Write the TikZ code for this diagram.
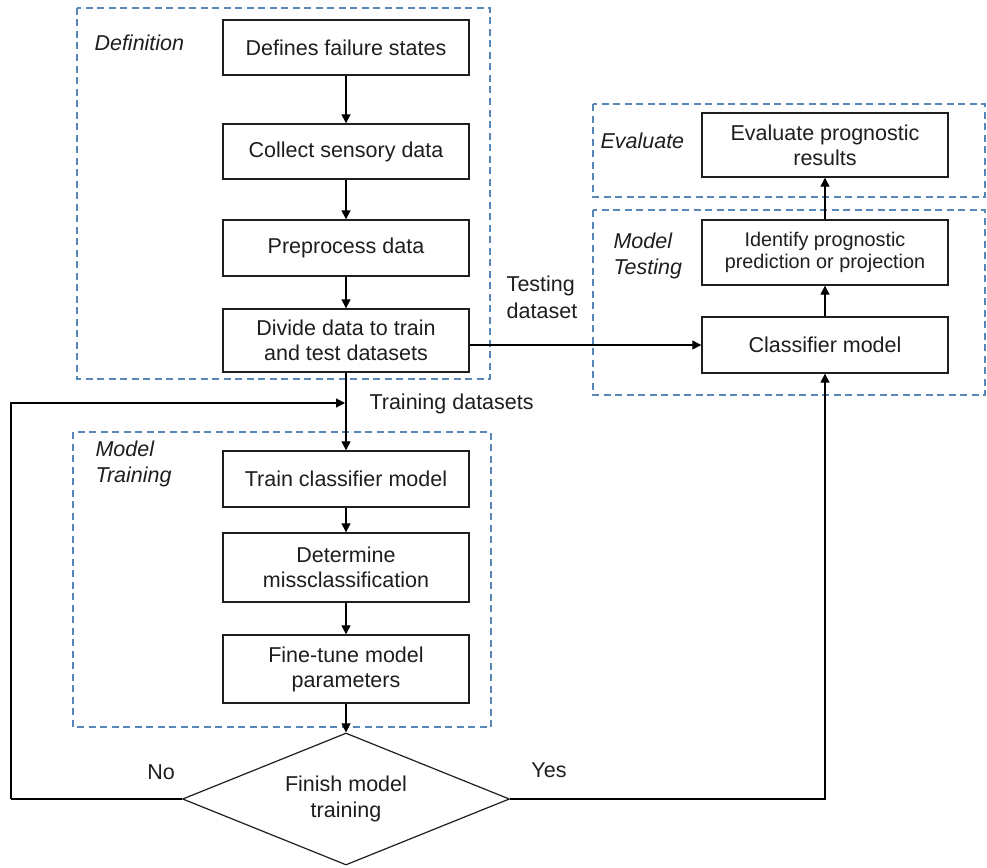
\documentclass[tikz,border=0pt]{standalone}
\usepackage{fontspec}
\setmainfont{Liberation Sans}
\usetikzlibrary{arrows.meta,shapes.geometric}
\definecolor{groupblue}{RGB}{88,134,182}
\definecolor{inkgray}{RGB}{30,30,30}
\begin{document}
\begin{tikzpicture}[x=1pt,y=-1pt,
  every node/.style={text=inkgray},
  stepbox/.style={draw=inkgray, line width=1.4pt, fill=white, minimum width=246pt,
    inner sep=2pt, align=center, font=\fontsize{21.5}{25}\selectfont},
  decision/.style={draw=inkgray, line width=1.2pt, diamond, aspect=2.48, fill=white, inner sep=0pt,
    minimum width=327pt, minimum height=132pt, align=center,
    font=\fontsize{21.5}{25.5}\selectfont},
  group/.style={draw=groupblue, line width=1.3pt, dash pattern=on 7pt off 4.5pt},
  grouplabel/.style={font=\itshape\fontsize{21.5}{25.5}\selectfont, align=left},
  plain/.style={font=\fontsize{21.5}{27}\selectfont, align=left},
  flow/.style={draw=black, line width=1.3pt, -{Triangle[length=9pt,width=9pt]}},
  link/.style={draw=black, line width=1.3pt}]
\useasboundingbox (0,0) rectangle (987,867);

% dashed stage frames
\draw[group] (77,8) rectangle (490,379);
\draw[group] (73,432) rectangle (491,727);
\draw[group] (593,104) rectangle (985,197);
\draw[group] (593,210) rectangle (985,395);

% stage names
\node[grouplabel, anchor=west] (lblDef) at (91,43) {Definition};
\node[grouplabel, anchor=west] (lblTrain) at (92,464) {Model\\Training};
\node[grouplabel, anchor=west] (lblEval) at (597,141) {Evaluate};
\node[grouplabel, anchor=west] (lblTest) at (610,256) {Model\\Testing};

% left column steps
\node[stepbox, minimum height=55pt] (fail) at (346,47.5) {Defines failure states};
\node[stepbox, minimum height=55pt] (collect) at (346,151.5) {Collect sensory data};
\node[stepbox, minimum height=56pt] (prep) at (346,248) {Preprocess data};
\node[stepbox, minimum height=63pt] (divide) at (346,340.5) {Divide data to train\\and test datasets};
\node[stepbox, minimum height=56pt] (train) at (346,479) {Train classifier model};
\node[stepbox, minimum height=69pt] (miss) at (346,567.5) {Determine\\missclassification};
\node[stepbox, minimum height=68pt] (tune) at (346,669) {Fine-tune model\\parameters};
\node[decision] (finish) at (346,799) {Finish model\\training};

% right column steps
\node[stepbox, minimum height=64pt] (evalres) at (825,145) {Evaluate prognostic\\results};
\node[stepbox, minimum height=65pt, font=\fontsize{19.8}{22.5}\selectfont] (ident) at (825,252.5) {Identify prognostic\\prediction or projection};
\node[stepbox, minimum height=56pt] (clf) at (825,345) {Classifier model};

% flow arrows
\draw[flow] (fail) -- (collect);
\draw[flow] (collect) -- (prep);
\draw[flow] (prep) -- (divide);
\draw[flow] (divide) -- (train);
\draw[flow] (train) -- (miss);
\draw[flow] (miss) -- (tune);
\draw[flow] (tune) -- (finish);
\draw[flow] (divide.east |- clf.west) -- (clf.west);
\draw[flow] (clf) -- (ident);
\draw[flow] (ident) -- (evalres);

% loop back when training is not finished
\coordinate (loopcorner) at (11,799);
\coordinate (loopjoin) at (345,403);
\draw[link] (finish.west) -- (loopcorner);
\draw[flow] (loopcorner) |- (loopjoin);
% proceed to testing when training is finished
\draw[flow] (finish.east) -| (clf.south);

% connector labels
\node[plain, anchor=west] (trainlbl) at (366,404) {Training datasets};
\node[plain, anchor=center] (testlbl) at (542,297) {Testing\\dataset};
\node[plain] (nolbl) at (161,772) {No};
\node[plain] (yeslbl) at (549,770) {Yes};
\end{tikzpicture}
\end{document}
